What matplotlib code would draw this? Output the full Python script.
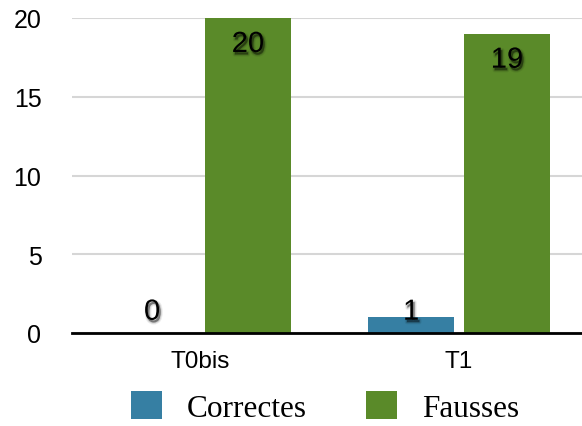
import numpy as np
import matplotlib.pyplot as plt
import matplotlib.patheffects as pe

categories = ["T0bis", "T1"]
correctes = [0, 1]
fausses = [20, 19]
series_names = ["Correctes", "Fausses"]
colors = ["#367fa3", "#5a8a29"]
yticks = [0, 5, 10, 15, 20]

fig = plt.figure(figsize=(5.82, 4.27), dpi=100)
ax = fig.add_axes([72 / 582, 1 - 334 / 427, 1 - 72 / 582, (334 - 19) / 427])

x = np.arange(len(categories))
w = 0.332
off = 0.185

b1 = ax.bar(x - off, correctes, w, color=colors[0], label=series_names[0], zorder=3)
b2 = ax.bar(x + off, fausses, w, color=colors[1], label=series_names[1], zorder=3)

# soft drop shadow under the value labels
shadow = [pe.Stroke(linewidth=3, foreground="black", alpha=0.07, offset=(1.2, -1.8)),
          pe.Stroke(linewidth=1.5, foreground="black", alpha=0.12, offset=(1.2, -1.8)),
          pe.SimplePatchShadow(offset=(1.2, -1.8), shadow_rgbFace="black", alpha=0.3),
          pe.Normal()]
for xs, vals in [(x - off, correctes), (x + off, fausses)]:
    for xi, v in zip(xs, vals):
        ypos = v - 1.65 if v > 3 else 1.35
        ax.text(xi, ypos, str(v), ha="center", va="center", fontsize=21,
                family="Liberation Sans", color="black", zorder=5,
                path_effects=shadow)

ax.set_xlim(-0.494, 1.475)
ax.set_ylim(0, 20)
ax.set_yticks(yticks)
ax.set_xticks(x)
ax.set_xticklabels(categories)
ax.grid(axis="y", color="#d6d6d6", linewidth=1.5, zorder=0)
ax.set_axisbelow(True)
for s in ["left", "right", "top"]:
    ax.spines[s].set_visible(False)
ax.spines["bottom"].set_linewidth(2)
ax.spines["bottom"].set_zorder(4)
ax.tick_params(axis="y", length=0, pad=22, labelsize=18)
ax.tick_params(axis="x", length=0, pad=12, labelsize=17.5)
for lbl in ax.get_xticklabels() + ax.get_yticklabels():
    lbl.set_family("Liberation Sans")

fig.legend(handles=[b1, b2], labels=series_names, loc="center",
           bbox_to_anchor=(325 / 582, 1 - 408 / 427), ncol=2, frameon=False,
           prop={"family": "Liberation Serif", "size": 22.5},
           handlelength=1.0, handleheight=1.0, handletextpad=0.8,
           columnspacing=1.9, borderpad=0)

fig.savefig("out.png", dpi=100)
